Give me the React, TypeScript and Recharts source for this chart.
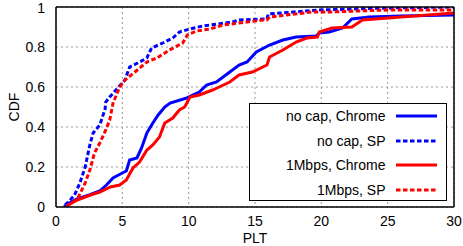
import { LineChart, Line, XAxis, YAxis, CartesianGrid, Legend, Label } from 'recharts'

const xTicks = [0, 5, 10, 15, 20, 25, 30]
const yTicks = [0, 0.2, 0.4, 0.6, 0.8, 1]

// no cap, Chrome
const noCapChromeX = [0.6, 1.0, 1.6, 2.5, 3.3, 3.8, 4.3, 5.0, 5.3, 5.55, 6.1, 6.45, 6.85, 7.3, 7.7, 8.2, 8.6, 9.85, 10.3, 10.8, 11.35, 12.1, 13.1, 13.8, 14.4, 15.1, 16.1, 17.1, 18.1, 19.6, 19.85, 20.6, 21.6, 22.3, 23.6, 26, 30]
const noCapChromeY = [0.0, 0.02, 0.04, 0.06, 0.08, 0.11, 0.145, 0.17, 0.18, 0.235, 0.245, 0.295, 0.37, 0.42, 0.46, 0.5, 0.52, 0.545, 0.56, 0.575, 0.61, 0.625, 0.675, 0.71, 0.725, 0.775, 0.81, 0.835, 0.85, 0.855, 0.87, 0.875, 0.895, 0.94, 0.95, 0.955, 0.96]

// no cap, SP
const noCapSpX = [0.68, 1.0, 1.4, 1.8, 2.2, 2.55, 2.8, 3.3, 3.7, 3.75, 4.05, 4.65, 5.2, 5.55, 6.3, 6.85, 7.2, 8.05, 8.8, 9.3, 10.1, 11.05, 13.3, 13.8, 15.9, 16.0, 19.8, 25, 30]
const noCapSpY = [0.01, 0.03, 0.06, 0.12, 0.2, 0.31, 0.37, 0.41, 0.49, 0.525, 0.55, 0.595, 0.635, 0.7, 0.725, 0.745, 0.795, 0.82, 0.845, 0.875, 0.89, 0.905, 0.925, 0.935, 0.94, 0.965, 0.985, 0.995, 1.0]

// 1Mbps, Chrome
const capChromeX = [0.8, 1.2, 1.6, 2.6, 3.3, 4.1, 4.8, 5.3, 5.8, 6.3, 6.85, 7.3, 7.8, 8.2, 8.8, 9.3, 9.7, 10.1, 10.8, 11.8, 12.3, 13.1, 13.8, 14.8, 15.9, 16.1, 17.1, 18.1, 18.9, 19.7, 19.85, 20.8, 22.3, 23.1, 26, 30]
const capChromeY = [0.005, 0.02, 0.035, 0.06, 0.075, 0.1, 0.11, 0.135, 0.195, 0.225, 0.285, 0.31, 0.35, 0.42, 0.445, 0.485, 0.5, 0.55, 0.56, 0.585, 0.6, 0.625, 0.66, 0.675, 0.71, 0.75, 0.785, 0.825, 0.845, 0.85, 0.875, 0.895, 0.9, 0.935, 0.95, 0.97]

// 1Mbps, SP
const capSpX = [0.8, 1.2, 1.65, 2.2, 2.55, 2.9, 3.3, 3.75, 4.05, 4.3, 4.8, 5.2, 5.95, 6.85, 7.6, 8.55, 9.55, 9.9, 10.6, 11.6, 12.6, 15.6, 15.9, 16.1, 19.3, 20.6, 25, 30]
const capSpY = [0.005, 0.02, 0.045, 0.12, 0.185, 0.27, 0.32, 0.385, 0.435, 0.52, 0.6, 0.635, 0.675, 0.725, 0.745, 0.785, 0.82, 0.86, 0.88, 0.89, 0.91, 0.935, 0.935, 0.95, 0.975, 0.975, 0.985, 0.985]

const toPoints = (xs: number[], ys: number[]) => xs.map((x, i) => ({ x, y: ys[i] }))

const series = [
  { name: 'no cap, Chrome', color: '#0000ff', dash: undefined, data: toPoints(noCapChromeX, noCapChromeY) },
  { name: 'no cap, SP', color: '#0000ff', dash: '4.5 2.5', data: toPoints(noCapSpX, noCapSpY) },
  { name: '1Mbps, Chrome', color: '#ff0000', dash: undefined, data: toPoints(capChromeX, capChromeY) },
  { name: '1Mbps, SP', color: '#ff0000', dash: '4.5 2.5', data: toPoints(capSpX, capSpY) },
]

const FONT = '"Liberation Sans", Arial, Helvetica, sans-serif'
const tickStyle = { fill: '#000', fontSize: 14 }
const border = { stroke: '#000', strokeWidth: 1.5 }

function LegendBox() {
  return (
    <div style={{ width: 198, height: 98, boxSizing: 'border-box', border: '1.5px solid #000', background: '#fff', fontFamily: FONT }}>
      {series.map(s => (
        <div key={s.name} style={{ display: 'flex', alignItems: 'center', height: 24.5 }}>
          <span style={{ width: 135.5, textAlign: 'right', fontSize: 14, color: '#000', lineHeight: '24.5px' }}>{s.name}</span>
          <svg width={41} height={6} style={{ marginLeft: 10, display: 'block' }}>
            <line x1={0} y1={3} x2={41} y2={3} stroke={s.color} strokeWidth={3} strokeDasharray={s.dash} />
          </svg>
        </div>
      ))}
    </div>
  )
}

export default function App() {
  return (
    <div style={{ position: 'absolute', left: 0, top: 0, fontFamily: FONT }}>
      <LineChart width={463} height={246} margin={{ top: 7, right: 9, bottom: 0, left: 0 }}>
        <CartesianGrid stroke="#9a9a9a" strokeDasharray="2 3" />
        <XAxis type="number" dataKey="x" domain={[0, 30]} ticks={xTicks} allowDataOverflow height={39}
          tickLine={false} tickSize={6} tickMargin={3} axisLine={border} tick={tickStyle}>
          <Label value="PLT" position="insideBottom" offset={3} fill="#000" fontSize={14} />
        </XAxis>
        <XAxis xAxisId="bt" type="number" domain={[0, 30]} ticks={xTicks} orientation="bottom" mirror
          tick={false} tickSize={5} axisLine={false} tickLine={{ stroke: '#000' }} />
        <XAxis xAxisId="tp" type="number" domain={[0, 30]} ticks={xTicks} orientation="top" mirror
          tick={false} tickSize={5} axisLine={border} tickLine={{ stroke: '#000' }} />
        <YAxis type="number" domain={[0, 1]} ticks={yTicks} allowDataOverflow width={56}
          tickLine={false} tickSize={8} tickMargin={3} axisLine={border} tick={tickStyle}>
          <Label value="CDF" angle={-90} position="insideLeft" offset={14} fill="#000" fontSize={14} style={{ textAnchor: 'middle' }} />
        </YAxis>
        <YAxis yAxisId="lf" type="number" domain={[0, 1]} ticks={yTicks} orientation="left" mirror
          tick={false} tickSize={5} axisLine={false} tickLine={{ stroke: '#000' }} />
        <YAxis yAxisId="rt" type="number" domain={[0, 1]} ticks={yTicks} orientation="right" mirror
          tick={false} tickSize={5} axisLine={border} tickLine={{ stroke: '#000' }} />
        <Legend layout="vertical" align="center" verticalAlign="middle" content={<LegendBox />}
          wrapperStyle={{ left: 249, top: 103, width: 198, height: 98 }} />
        {series.map(s => (
          <Line key={s.name} name={s.name} data={s.data} dataKey="y" type="linear" stroke={s.color}
            strokeWidth={3} strokeDasharray={s.dash} dot={false} activeDot={false} isAnimationActive={false} />
        ))}
      </LineChart>
    </div>
  )
}
